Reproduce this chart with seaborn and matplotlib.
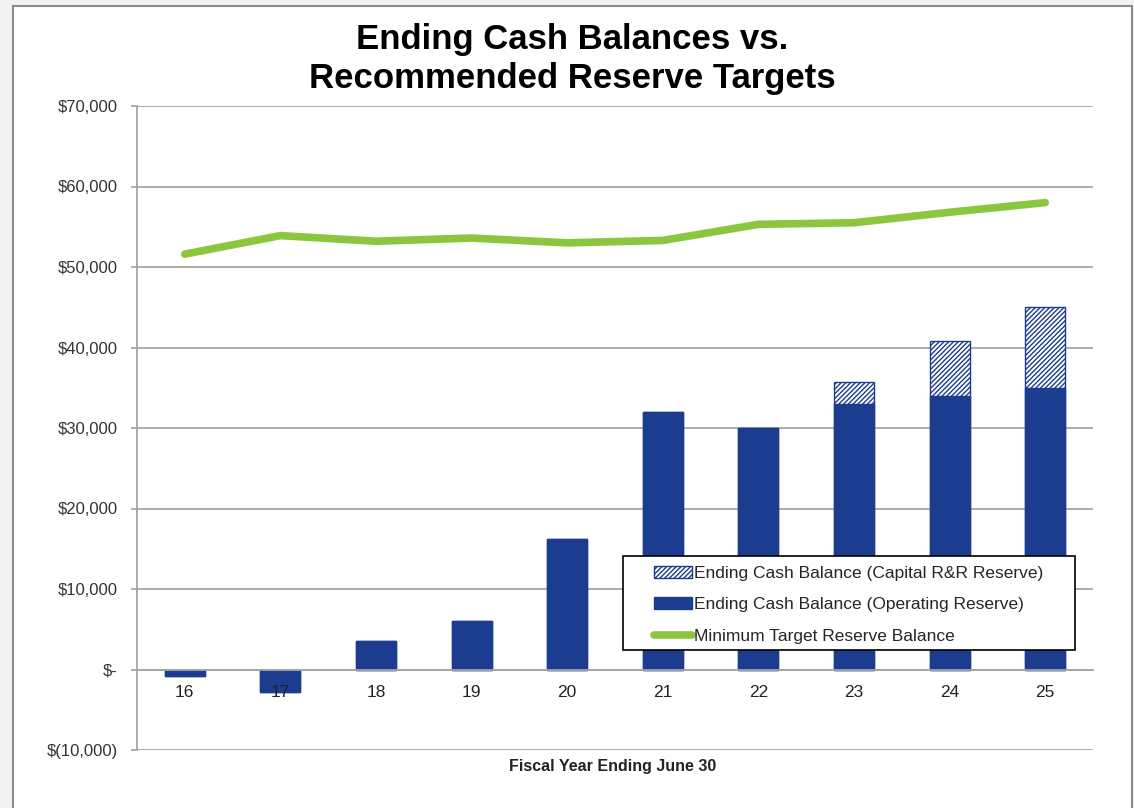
import numpy as np
import pandas as pd
import matplotlib
matplotlib.use("Agg")
import matplotlib.pyplot as plt
import matplotlib.ticker as mticker
from matplotlib.patches import Rectangle
import seaborn as sns

# chart values
years = ["16", "17", "18", "19", "20", "21", "22", "23", "24", "25"]
operating = [-750, -2800, 3500, 6000, 16200, 32000, 30000, 33000, 34000, 35000]
capital = [0, 0, 0, 0, 0, 0, 0, 2700, 6800, 10000]
target = [51600, 53900, 53200, 53600, 53000, 53300, 55300, 55500, 56800, 58000]

BLUE = "#1c3d8f"
GREEN = "#8cc63f"
GRID = "#a6a6a6"

LBL_CAP = "Ending Cash Balance (Capital R&R Reserve)"
LBL_OPS = "Ending Cash Balance (Operating Reserve)"
LBL_MIN = "Minimum Target Reserve Balance"


def money(v, pos):
    if v == 0:
        return "$-"
    if v < 0:
        return "$({:,.0f})".format(abs(v))
    return "${:,.0f}".format(v)


def main():
    sns.set_style("white")
    plt.rcParams["font.family"] = ["Liberation Sans", "DejaVu Sans"]
    plt.rcParams["hatch.color"] = BLUE
    plt.rcParams["hatch.linewidth"] = 1.0

    df = pd.DataFrame({"year": years, "operating": operating,
                       "capital": capital, "target": target})
    df["total"] = df["operating"] + df["capital"]
    df["pos"] = np.arange(len(df))

    fig = plt.figure(figsize=(11.34, 8.08), dpi=100, facecolor="#f2f2f2")
    # white chart area with grey frame
    fig.patches.append(Rectangle((13 / 1134, -0.01), 1119 / 1134, 1 - 6 / 808 + 0.01,
                                 transform=fig.transFigure, facecolor="white",
                                 edgecolor="#8c8c8c", linewidth=1.5, zorder=-10))

    ax = fig.add_axes([137 / 1134, 1 - 750 / 808, 956 / 1134, 644 / 808])
    ax.set_facecolor("white")
    ax.set_zorder(1)

    # stacked bars: total (hatched) first, operating drawn over it
    sns.barplot(data=df, x="year", y="total", order=years, ax=ax, width=0.42,
                color="white", edgecolor=BLUE, hatch="///////", linewidth=1,
                errorbar=None, label=LBL_CAP, saturation=1, zorder=2)
    sns.barplot(data=df, x="year", y="operating", order=years, ax=ax, width=0.42,
                color=BLUE, edgecolor=BLUE, linewidth=1, errorbar=None,
                label=LBL_OPS, saturation=1, zorder=3)
    sns.lineplot(data=df, x="pos", y="target", ax=ax, color=GREEN, linewidth=5.5,
                 sort=False, label=LBL_MIN, zorder=4, solid_capstyle="round")

    ax.set_xlim(-0.5, len(years) - 0.5)
    ax.set_ylim(-10000, 70000)
    ax.set_yticks(np.arange(-10000, 70001, 10000))
    ax.yaxis.set_major_formatter(mticker.FuncFormatter(money))

    ax.yaxis.grid(True, color=GRID, linewidth=1.3)
    ax.set_axisbelow(True)
    ax.xaxis.set_zorder(6)  # year labels sit on top of the negative bars
    for s in ["top", "right"]:
        ax.spines[s].set_visible(False)
    ax.spines["left"].set_color(GRID)
    ax.spines["left"].set_linewidth(1.3)
    ax.spines["bottom"].set_position(("data", 0))
    ax.spines["bottom"].set_color(GRID)
    ax.spines["bottom"].set_linewidth(1.3)
    ax.spines["bottom"].set_zorder(5)

    ax.set_xticks(np.arange(len(years)))
    ax.set_xticklabels(years)
    ax.set_xticks(np.arange(len(years) + 1) - 0.5, minor=True)
    ax.tick_params(axis="x", which="major", length=0, pad=11, labelsize=12.5,
                   labelcolor="#222222")
    ax.tick_params(axis="x", which="minor", length=5, width=1.3, color=GRID,
                   direction="out")
    ax.tick_params(axis="y", length=4, width=1.3, color=GRID, pad=10,
                   labelsize=12, labelcolor="#333333", left=True)

    ax.set_xlabel("Fiscal Year Ending June 30", fontsize=11.5, fontweight="bold",
                  color="#222222")
    ax.xaxis.set_label_coords(0.497, -0.014)
    ax.set_ylabel("")

    fig.text(572 / 1134, 1 - 59 / 808,
             "Ending Cash Balances vs.\nRecommended Reserve Targets",
             ha="center", va="center", fontsize=25, fontweight="bold",
             linespacing=1.2, color="black")

    # legend frame (wide Excel-style box), entries placed inside it
    fig.patches.append(Rectangle((623 / 1134, 1 - 650 / 808), 452 / 1134, 94 / 808,
                                 transform=fig.transFigure, facecolor="white",
                                 edgecolor="black", linewidth=1.2, zorder=5))
    handles, labels = ax.get_legend_handles_labels()
    lookup = dict(zip(labels, handles))
    order = [LBL_CAP, LBL_OPS, LBL_MIN]
    leg = fig.legend([lookup[k] for k in order], order, loc="upper left",
                     bbox_to_anchor=(644 / 1134, 1 - 556 / 808),
                     fontsize=12.5, frameon=False, handlelength=2.2,
                     handletextpad=0.15, labelspacing=0.95, borderpad=0.55,
                     borderaxespad=0)
    leg.set_zorder(6)
    if ax.get_legend() is not None:
        ax.get_legend().remove()

    plt.savefig("out.png", dpi=100, facecolor=fig.get_facecolor())


if __name__ == "__main__":
    main()
